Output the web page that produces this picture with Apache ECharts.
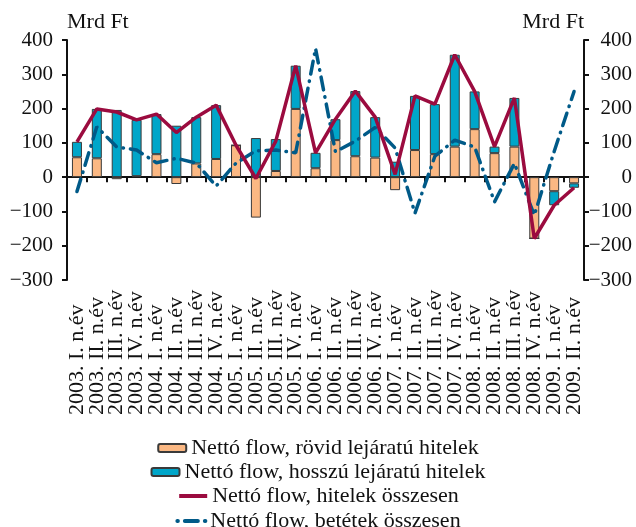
<!DOCTYPE html>
<html>
<head>
<meta charset="utf-8">
<script src="https://cdn.jsdelivr.net/npm/echarts@6/dist/echarts.min.js"></script>
<style>
  html, body { margin: 0; padding: 0; background: #fff; }
  #main { width: 636px; height: 527px; }
</style>
</head>
<body>
<div id="main"></div>
<script>
// negyedévek
const categories = [
  "2003. I. n.év", "2003. II. n.év", "2003. III. n.év", "2003. IV. n.év",
  "2004. I. n.év", "2004. II. n.év", "2004. III. n.év", "2004. IV. n.év",
  "2005. I. n.év", "2005. II. n.év", "2005. III. n.év", "2005. IV. n.év",
  "2006. I. n.év", "2006. II. n.év", "2006. III. n.év", "2006. IV. n.év",
  "2007. I. n.év", "2007. II. n.év", "2007. III. n.év", "2007. IV. n.év",
  "2008. I. n.év", "2008. II. n.év", "2008. III. n.év", "2008. IV. n.év",
  "2009. I. n.év", "2009. II. n.év"
];

// Mrd Ft
const shortTerm = [58, 55, -6, 3, 67, -20, 40, 53, 93, -118, 18, 199, 26, 108, 61, 57, -38, 79, 67, 89, 140, 70, 89, -179, -41, -18];
const longTerm = [45, 144, 196, 164, 117, 150, 135, 157, 0, 114, 93, 126, 45, 61, 190, 118, 45, 158, 146, 268, 110, 19, 142, 0, -41, -13];
const loansTotal = [103, 199, 190, 167, 184, 130, 175, 210, 93, -4, 105, 325, 71, 169, 251, 175, 8, 237, 213, 357, 250, 89, 231, -179, -82, -31];
const depositsTotal = [-42, 147, 88, 79, 42, 55, 41, -26, 41, 77, 79, 71, 375, 74, 105, 145, 85, -105, 61, 108, 88, -72, 40, -111, 75, 250];

const yTicks = { min: -300, max: 400, interval: 100 };

const names = [
  "Nettó flow, rövid lejáratú hitelek",
  "Nettó flow, hosszú lejáratú hitelek",
  "Nettó flow, hitelek összesen",
  "Nettó flow, betétek összesen"
];

const font = "Liberation Serif";
const minus = (v) => String(v).replace("-", "\u2212");
const dashDot = [13, 7, 0.5, 7];

const myChart = echarts.init(document.getElementById("main"), null, { renderer: "canvas" });

function yAxis(side) {
  return {
    type: "value",
    position: side,
    min: yTicks.min,
    max: yTicks.max,
    interval: yTicks.interval,
    name: "Mrd Ft",
    nameLocation: "end",
    nameGap: 7,
    nameTextStyle: {
      fontFamily: font, fontSize: 22, color: "#111",
      align: side === "left" ? "left" : "right"
    },
    axisLine: { show: true, lineStyle: { color: "#111", width: 2 } },
    axisTick: { show: true, length: 5, lineStyle: { color: "#111", width: 2 } },
    axisLabel: {
      fontFamily: font, fontSize: 21, color: "#111",
      margin: side === "left" ? 14 : 48,
      align: "right",
      formatter: minus
    },
    splitLine: { show: false }
  };
}

function legendRow(name, top, line) {
  const row = {
    data: [name],
    top: top,
    left: "center",
    itemWidth: 28,
    itemHeight: 8,
    itemGap: 6,
    selectedMode: false,
    textStyle: { fontFamily: font, fontSize: 22, color: "#111" }
  };
  // vonalaknál ne legyen pont a jelben
  if (line) {
    row.itemStyle = { opacity: 0 };
    row.lineStyle = Object.assign({ width: 4 }, line);
  }
  return row;
}

const option = {
  animation: false,
  grid: { left: 67, right: 52, top: 40, bottom: 247, containLabel: false },
  legend: [
    legendRow(names[0], 432),
    legendRow(names[1], 456),
    legendRow(names[2], 480, {}),
    legendRow(names[3], 505, { type: dashDot, dashOffset: 20, cap: "round" })
  ],
  xAxis: [
    {
      // tengely a nullánál, csak osztások
      type: "category",
      data: categories,
      position: "bottom",
      axisLine: { onZero: true, lineStyle: { color: "#111", width: 2 } },
      axisTick: { show: true, interval: 0, length: 5, lineStyle: { color: "#111", width: 2 } },
      axisLabel: { show: false }
    },
    {
      // feliratok a diagram alján
      type: "category",
      data: categories,
      position: "bottom",
      axisLine: { show: false, onZero: false },
      axisTick: { show: false },
      axisLabel: {
        interval: 0,
        rotate: 90,
        align: "left",
        margin: 135,
        fontFamily: font,
        fontSize: 22,
        color: "#111"
      }
    }
  ],
  yAxis: [yAxis("left"), yAxis("right")],
  series: [
    {
      name: names[0],
      type: "bar",
      stack: "credit",
      barWidth: 10,
      data: shortTerm,
      itemStyle: { color: "#fbb883", borderColor: "#3a3a3a", borderWidth: 1 }
    },
    {
      name: names[1],
      type: "bar",
      stack: "credit",
      barWidth: 10,
      data: longTerm,
      itemStyle: { color: "#00a6c9", borderColor: "#3a3a3a", borderWidth: 1 }
    },
    {
      name: names[3],
      type: "line",
      data: depositsTotal,
      symbol: "none",
      z: 3,
      itemStyle: { color: "#005a88" },
      lineStyle: { color: "#005a88", width: 3.5, type: dashDot, cap: "round" }
    },
    {
      name: names[2],
      type: "line",
      data: loansTotal,
      symbol: "none",
      z: 4,
      itemStyle: { color: "#9b0b3f" },
      lineStyle: { color: "#9b0b3f", width: 3.5 }
    }
  ]
};

myChart.setOption(option);
</script>
</body>
</html>
